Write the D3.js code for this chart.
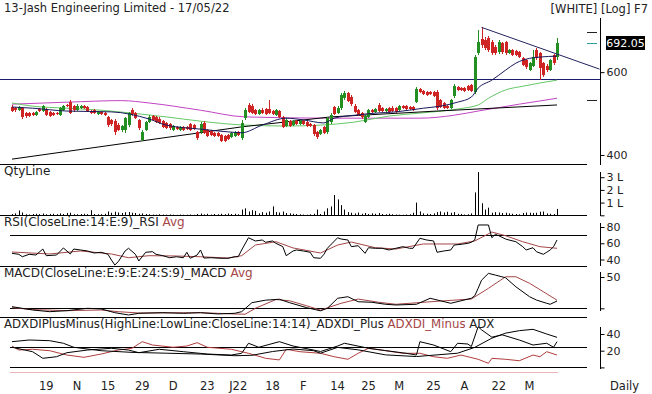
<!DOCTYPE html>
<html lang="en">
<head>
<meta charset="UTF-8">
<title>13-Jash Engineering Limited</title>
<style>
  body { margin: 0; background: #fff; }
  svg { display: block; font-family: "DejaVu Sans", Verdana, sans-serif; }
</style>
</head>
<body>
<div id="main"></div>
<script src="https://cdn.jsdelivr.net/npm/d3@7"></script>
<script>
// ---- data (one value per trading day, index 0..159) ----
const title = '13-Jash Engineering Limited - 17/05/22'
const flags = '[WHITE] [Log] F7'
const lastClose = 692.05

const open = [
  506,503,498,503,491,491,491,486,501,496, 501,494,491,491,486,498,511,518,508,498,
  503,508,506,496,498,489,494,491,482,475, 472,463,452,452,463,498,491,475,431,452,
  470,484,482,477,472,468,466,452,459,452, 459,459,466,463,448,448,468,452,450,446,
  446,441,439,441,437,439,448,435,479,511, 508,498,489,498,501,501,496,486,496,482,
  461,472,463,472,466,472,470,466,463,448, 443,459,448,470,506,491,503,528,542,531,
  508,498,491,470,482,498,494,511,503,496, 503,503,503,498,508,508,506,506,518,552,
  547,544,544,544,544,523,516,508,503,534, 558,555,555,560,563,544,658,705,702,708,
  695,678,662,691,695,658,668,665,662,642, 636,606,618,668,658,627,618,606,652,646]
const high = [
  511,506,508,506,494,494,494,496,503,511, 503,496,494,494,506,511,513,523,511,513,
  511,511,508,498,501,496,496,494,484,477, 477,468,463,482,494,503,494,477,452,472,
  486,486,484,482,475,470,468,463,461,461, 461,461,468,466,450,470,472,454,452,448,
  448,443,441,443,448,450,450,475,503,516, 513,501,501,503,503,523,498,501,498,484,
  479,475,475,475,475,475,472,468,466,450, 454,461,482,491,508,508,542,547,544,536,
  513,501,494,486,501,501,503,516,506,503, 506,508,506,511,511,511,508,508,558,555,
  550,547,547,547,550,526,518,511,526,566, 560,558,558,563,566,652,737,748,712,715,
  702,685,702,695,698,671,671,668,665,646, 639,630,668,675,662,630,624,639,655,708]
const low = [
  494,494,496,477,479,482,484,484,494,494, 484,482,484,486,484,496,506,489,494,496,
  501,501,494,489,489,486,486,484,459,461, 441,450,448,446,459,484,477,452,429,450,
  468,472,468,466,457,454,452,450,452,450, 450,452,450,452,431,443,443,437,439,437,
  437,426,426,431,435,437,439,431,475,491, 489,486,486,489,486,489,486,484,479,457,
  459,459,461,463,463,463,459,459,439,433, 441,443,443,466,486,489,498,523,518,508,
  491,484,477,468,479,491,491,494,494,494, 491,494,491,496,501,498,498,496,516,542,
  536,534,536,531,498,503,501,501,501,528, 547,547,544,547,544,539,652,675,668,662,
  652,652,655,655,652,655,649,649,642,618, 609,603,615,636,577,586,600,603,621,636]
const close = [
  496,498,506,482,484,484,486,494,496,508, 486,484,486,489,503,508,508,491,498,508,
  508,503,496,491,491,494,489,486,463,466, 448,452,461,479,491,489,479,456,448,470,
  482,475,470,468,459,457,457,461,454,459, 452,454,452,454,435,466,446,439,441,439,
  439,429,429,433,446,448,441,468,498,494, 491,489,498,491,489,491,489,498,482,459,
  475,461,472,466,472,466,461,461,443,437, 452,446,479,486,489,503,536,542,521,513,
  494,486,482,484,498,494,501,496,496,501, 494,496,494,508,503,501,501,498,552,544,
  539,536,539,534,503,506,503,503,523,560, 550,550,547,550,547,646,695,685,675,668,
  658,658,695,662,658,668,652,652,646,621, 615,627,646,642,612,591,606,636,627,692.05]
// traded quantity, thousands of shares
const qty = [
  10,15,38,22,8,6,10,12,9,14, 8,10,12,9,15,10,18,20,9,8,
  10,12,9,40,10,8,9,12,30,20, 28,22,18,24,26,20,18,12,15,10,
  8,6,5,8,6,5,7,5,4,6, 4,5,6,4,10,14,8,12,6,10,
  8,12,9,14,10,12,8,45,55,30, 40,35,15,25,20,30,70,25,22,30,
  18,15,12,10,8,6,5,8,12,45, 10,30,55,70,160,125,80,45,25,20,
  15,22,12,18,10,15,12,18,10,8, 12,8,6,5,4,6,8,20,100,30,
  15,12,10,15,25,30,22,28,20,25, 12,10,6,8,15,180,340,95,45,60,
  20,25,22,18,20,15,12,10,8,18, 22,20,18,20,28,30,15,12,10,50]

// overlays on the price panel: [day index, price]
const emaLine = [[0,506],[6,503],[16,496],[29,494],[40,477],[45,463],[55,454],[63,448],[67,446],[73,463],
  [80,479],[85,475],[91,468],[94,479],[100,486],[106,491],[112,494],[120,503],[125,508],[130,518],
  [134,531],[136,555],[140,577],[144,606],[147,627],[151,642],[154,646],[159,649]]
const greenLine = [[0,516],[6,508],[16,503],[26,498],[35,491],[45,482],[55,472],[68,463],[80,461],[90,463],
  [100,470],[110,484],[119,491],[130,501],[136,511],[139,528],[144,550],[149,560],[154,569],[159,577]]
const magentaLine = [[0,513],[16,518],[32,522],[40,516],[55,498],[68,482],[93,479],[119,479],[129,486],
  [136,496],[148,513],[159,528]]
const longLine = [[0,392],[67,459],[93,482],[124,496],[159,511]]
const trendLine = [[137,747],[171.4,609]]
const supportLevel = 580
const priceMarks = [730, 523]

// indicators: [day index, value]
const rsi = [[0,47.6],[2,46.4],[3,43.4],[5,46.4],[7,45.5],[9,52.9],[10,44.7],[13,45.5],[15,54.2],[17,46.8],
  [18,52.9],[20,51.7],[22,50.5],[24,48],[26,48.9],[28,46.4],[29,39.4],[30,33.2],[31,37.3],[33,50.5],
  [34,53.8],[36,46.4],[37,38.2],[39,48.9],[41,49.6],[42,46.4],[44,44.7],[46,42.2],[48,43.4],[50,42.2],
  [51,48.9],[52,41.5],[54,45.5],[55,51.7],[56,41.8],[58,42.2],[61,41.5],[63,41.5],[65,43.4],[66,43.4],
  [67,51.7],[69,66.8],[71,62.8],[73,64],[74,61.2],[76,62.8],[77,59.9],[79,55.8],[80,44.7],[82,50.5],
  [83,51.7],[85,50.5],[87,48.9],[88,42.2],[90,41.5],[91,46.4],[92,53.8],[95,66.8],[96,65.2],[98,64],
  [99,55.8],[101,57],[103,47.6],[104,54.5],[106,53.8],[108,53.8],[110,51.7],[112,53.8],[114,55.8],[116,53.8],
  [117,53.8],[119,66.1],[121,64],[123,62.8],[124,48.9],[126,50.5],[128,51.7],[129,57.8],[131,58.7],[133,59.9],
  [134,61.2],[135,64],[136,82.5],[139,82.5],[140,66.8],[141,71],[142,69.3],[144,65.2],[145,64],[147,61.9],
  [149,55.8],[150,51.7],[152,54.5],[153,49.6],[155,46.4],[156,48.9],[157,51.7],[158,55.8],[159,64]]
const rsiAvg = [[0,49.2],[11,46.8],[20,50.5],[29,46.8],[34,42.2],[40,44.7],[48,44.3],[55,43.4],[63,41.8],
  [67,44.7],[71,57.8],[77,61.9],[82,54.2],[90,48],[95,57.8],[99,61.5],[106,54.5],[112,52.9],[120,59.1],
  [130,59.1],[135,62.8],[140,73.8],[144,69.3],[149,61.9],[154,55.8],[159,53.8]]
const macd = [[0,2.6],[6,-2.7],[11,-5.4],[16,-3.8],[22,0],[26,-1],[30,-7],[34,-10.7],[37,-8],[44,-7],
  [50,-8],[55,-7],[60,-9],[65,-8],[67,-5.4],[70,9],[74,13],[78,14.5],[81,8.9],[86,1],[90,-4],[92,0],
  [95,16],[98,18.5],[101,10.5],[105,9.6],[109,6.4],[112,5.3],[118,6.4],[122,16],[128,8],[134,16],
  [135,20],[136,32],[137,45],[139,55.8],[141,53.1],[144,48.8],[147,34.4],[151,18.5],[153,13.2],
  [156,8],[157,6.4],[159,11.6]]
const macdAvg = [[0,1],[6,-2],[16,-3.8],[26,-2.7],[31,-5.4],[37,-7.5],[55,-7],[65,-9.1],[68,-9.5],[71,0],
  [77,14],[81,12],[86,4],[90,-3],[96,8],[101,14.8],[107,9.6],[112,6.4],[125,11.6],[134,14.8],[139,31.9],
  [144,50.4],[147,50.4],[151,39.9],[155,26.5],[159,13]]
const diPlus = [[0,24.1],[6,18.8],[9,10.9],[13,12.8],[16,17.6],[22,20.8],[29,22.9],[34,20.8],[37,17.6],
  [43,21.7],[50,18.8],[57,16],[64,14.8],[67,16.9],[69,28.9],[72,24.1],[78,30.8],[82,25.6],[88,20.8],
  [90,19],[95,25.6],[97,28.9],[104,22.9],[109,20.1],[115,16.9],[118,14.8],[119,30.8],[123,26.8],
  [128,18.8],[130,28.9],[133,28],[134,24.9],[136,48.7],[137,45],[140,36.2],[143,39],[148,32.8],
  [152,26.8],[156,28.9],[158,24.1],[159,30.8]]
const diMinus = [[0,25.6],[2,20.8],[6,21.7],[11,20],[16,14.8],[21,12.1],[26,16],[31,20.8],[35,22.9],
  [38,30.8],[41,26.8],[47,24.1],[51,25.6],[54,29.6],[57,24.1],[64,21.7],[69,16.9],[74,10.9],[78,8.9],
  [80,21.7],[84,18.8],[90,16.9],[94,12.8],[98,9.7],[101,16.9],[104,22.9],[109,20],[114,16.9],[119,16.9],
  [123,12.8],[127,10.9],[131,14.8],[136,9.7],[139,4.9],[140,10.9],[144,9.7],[148,8],[152,14.8],
  [154,12.8],[156,18.8],[159,14.8]]
const adx = [[0,30.8],[5,32.8],[11,32],[15,28.9],[18,24.1],[26,20],[35,18],[45,17],[55,16],[65,14],
  [70,14.5],[76,19],[82,22],[88,20],[90,17],[95,24],[101,21],[109,15],[118,13],[130,17],[135,24],
  [140,35],[144,41],[148,44],[152,45.6],[156,40],[159,36]]

// date axis
const tickIdx = [10,19,28,38,47,57,66,76,85,95,104,113,123,132,142,151]
const tickLabels = ['19','N','15','29','D','23','J22','18','F','14','25','M','25','A','22','M']

// ---- drawing ----
const [width, height] = [652, 394]
const svg = d3.select('#main').append('svg')
  .attr('width', width).attr('height', height)
  .attr('viewBox', `0 0 ${width} ${height}`)

const axisX = 600, sepEnd = 587
const red = '#cf2424', green = '#238f23', avgRed = '#a44646'

const x = d3.scaleLinear().domain([0, close.length - 1]).range([12, 557])
const yP = d3.scaleLog().domain([400, lastClose]).range([155, 43])
const yV = d3.scaleLinear().domain([0, 300]).range([215.3, 177.2])
const yR = d3.scaleLinear().domain([40, 80]).range([259.5, 227])
const yM = d3.scaleLinear().domain([0, 50]).range([308.3, 277])
const yA = d3.scaleLinear().domain([0, 40]).range([367.4, 334])

const hline = (y, x1, x2, color) => svg.append('line')
  .attr('x1', x1).attr('x2', x2).attr('y1', y).attr('y2', y)
  .attr('stroke', color).attr('stroke-width', 1)
const vline = (y1, y2) => svg.append('line')
  .attr('x1', axisX + 0.5).attr('x2', axisX + 0.5).attr('y1', y1).attr('y2', y2)
  .attr('stroke', '#000')
const path = (data, scale, color, curve) => svg.append('path')
  .datum(data)
  .attr('fill', 'none').attr('stroke', color).attr('stroke-width', 1)
  .attr('d', d3.line().x(d => x(d[0])).y(d => scale(d[1])).curve(curve || d3.curveLinear))

// header texts
svg.append('text').attr('x', 4).attr('y', 12).attr('font-size', 11.5).attr('fill', '#222').text(title)
svg.append('text').attr('x', 648).attr('y', 13).attr('text-anchor', 'end')
  .attr('font-size', 11.5).attr('fill', '#222').text(flags)

// panel separators and level lines
;[164.5, 215.5, 266.5, 317.5].forEach(y => hline(y, 0, sepEnd, '#000'))
hline(Math.round(yR(70)) + 0.5, 10, sepEnd, '#000')
hline(Math.round(yM(0)) + 0.5, 10, sepEnd, '#000')
hline(Math.round(yA(25)) + 0.5, 10, sepEnd, '#000')
hline(Math.round(yA(0)) + 0.5, 10, sepEnd, '#000')
hline(372.5, x(0) - 2, x(close.length - 1) + 1, '#e9b4b4')

// right axes
vline(18, 165); vline(172, 216); vline(223, 266); vline(272, 311); vline(327, 369)

function rightAxis(scale, values, fmt) {
  const g = svg.append('g').attr('transform', `translate(${axisX + 0.5},0)`)
    .call(d3.axisRight(scale).tickValues(values).tickSize(4).tickSizeOuter(0).tickFormat(fmt))
  g.select('.domain').remove()
  g.selectAll('text').attr('font-family', '"DejaVu Sans", Verdana, sans-serif')
    .attr('font-size', 11).attr('fill', '#222').attr('x', 6)
  g.selectAll('line').attr('stroke', '#000')
}
rightAxis(yP, [600, 400], d3.format('d'))
rightAxis(yV, [0, 100, 200, 300], d => d ? `${d / 100} L` : '')
rightAxis(yR, [80, 60, 40], d3.format('d'))
rightAxis(yM, [50, 0], d => d ? d : '')
rightAxis(yA, [40, 20, 0], d => d ? d : '')

// price markers near the axis
priceMarks.forEach(p => hline(Math.round(yP(p)) + 0.5, 587, 597, '#222'))
hline(Math.round(yP(lastClose)) + 0.5, 587, 597, '#2b9c9c')
svg.append('rect').attr('x', 606).attr('y', Math.round(yP(lastClose)) - 7)
  .attr('width', 39).attr('height', 14).attr('fill', '#000')
svg.append('text').attr('x', 625.5).attr('y', Math.round(yP(lastClose)) + 4)
  .attr('text-anchor', 'middle').attr('font-size', 11).attr('fill', '#fff').text(lastClose.toFixed(2))

// support and overlays behind candles
hline(Math.round(yP(supportLevel)) + 0.5, 0, axisX, '#1c1c6e')
path(magentaLine, yP, '#c244c2', d3.curveMonotoneX)
path(greenLine, yP, '#66c866', d3.curveMonotoneX)
path(longLine, yP, '#000')

// candles
const days = d3.range(close.length)
const candle = svg.append('g').attr('shape-rendering', 'crispEdges')
  .selectAll('g').data(days).join('g')
  .attr('fill', i => close[i] >= open[i] ? green : red)
  .attr('stroke', i => close[i] >= open[i] ? green : red)
candle.append('line')
  .attr('x1', i => Math.round(x(i)) + 0.5).attr('x2', i => Math.round(x(i)) + 0.5)
  .attr('y1', i => yP(high[i])).attr('y2', i => yP(low[i]))
candle.append('rect')
  .attr('stroke', 'none')
  .attr('x', i => Math.round(x(i)) - 1).attr('width', 3)
  .attr('y', i => yP(Math.max(open[i], close[i])))
  .attr('height', i => Math.max(1, yP(Math.min(open[i], close[i])) - yP(Math.max(open[i], close[i]))))

path(emaLine, yP, '#18185a', d3.curveMonotoneX)
path(trendLine, yP, '#22225e')

// quantity stems
svg.append('g').selectAll('line').data(days).join('line')
  .attr('x1', i => Math.round(x(i)) + 0.5).attr('x2', i => Math.round(x(i)) + 0.5)
  .attr('y1', yV(0)).attr('y2', i => yV(qty[i]))
  .attr('stroke', '#000').attr('stroke-width', 1)

// indicators
path(rsiAvg, yR, avgRed)
path(rsi, yR, '#000')
path(macdAvg, yM, avgRed)
path(macd, yM, '#000')
path(diMinus, yA, '#b23c3c')
path(diPlus, yA, '#000')
path(adx, yA, '#000')

// panel captions
function caption(y, size, parts) {
  const t = svg.append('text').attr('x', 4).attr('y', y).attr('font-size', size)
  parts.forEach(([s, c]) => t.append('tspan').attr('fill', c).text(s))
}
caption(175, 12, [['QtyLine', '#222']])
caption(226, 12, [['RSI(CloseLine:14:E:9)_RSI ', '#222'], ['Avg', avgRed]])
caption(277, 12, [['MACD(CloseLine:E:9:E:24:S:9)_MACD ', '#222'], ['Avg', avgRed]])
caption(328, 11.75, [['ADXDIPlusMinus(HighLine:LowLine:CloseLine:14:14)_ADXDI_Plus ', '#222'],
  ['ADXDI_Minus ', avgRed], ['ADX', '#222']])

// date labels
svg.append('g').selectAll('text').data(tickIdx).join('text')
  .attr('x', i => x(i)).attr('y', 390).attr('text-anchor', 'middle')
  .attr('font-size', 11.5).attr('fill', '#222')
  .text((d, k) => tickLabels[k])
svg.append('text').attr('x', 610).attr('y', 390).attr('font-size', 11.5).attr('fill', '#222').text('Daily')
</script>
</body>
</html>
